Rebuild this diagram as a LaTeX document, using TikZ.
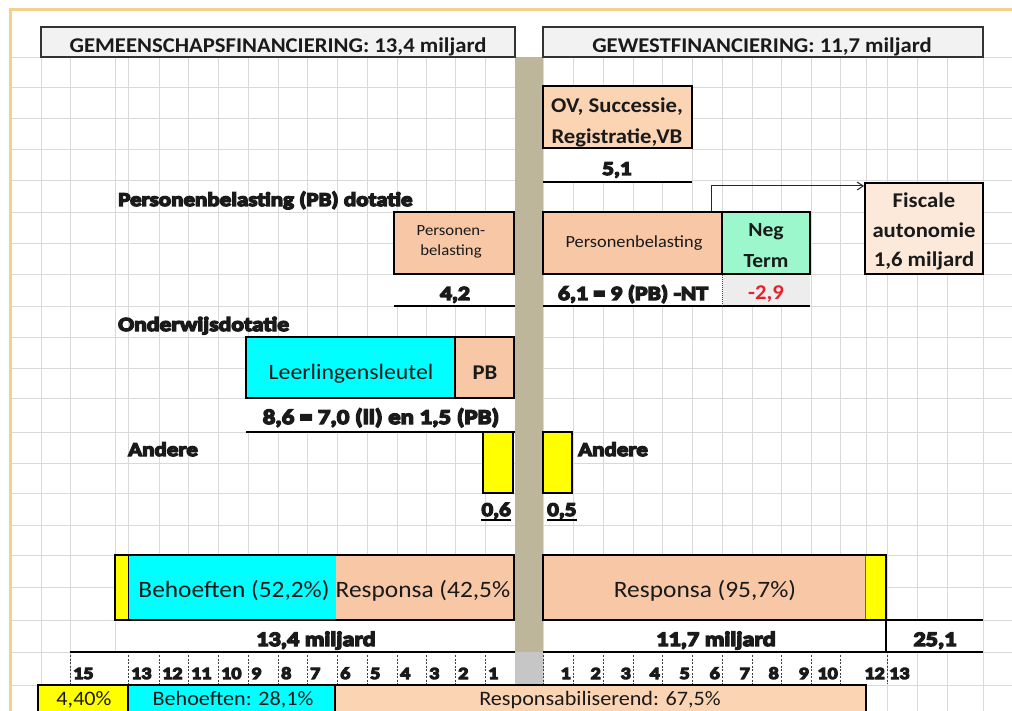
\documentclass[tikz,border=0pt]{standalone}
\usepackage{fontspec}
\setmainfont{Carlito}[FakeStretch=1.08]
\newfontfamily\heavyfont{Carlito}[UprightFont={* Bold},UprightFeatures={FakeBold=7},FakeStretch=1.18]
\usetikzlibrary{arrows.meta}
\definecolor{gridc}{HTML}{D9D9D9}
\definecolor{framec}{HTML}{F5D08A}
\definecolor{bandc}{HTML}{BDB69B}
\definecolor{axgray}{HTML}{C6C6C6}
\definecolor{hdrfill}{HTML}{F2F2F2}
\definecolor{peachA}{HTML}{F8C7A6}
\definecolor{peachB}{HTML}{FBD4B4}
\definecolor{peachC}{HTML}{FDE9D9}
\definecolor{mint}{HTML}{9CF7CC}
\definecolor{cyanc}{HTML}{00FFFF}
\definecolor{yel}{HTML}{FFFF00}
\definecolor{celgray}{HTML}{EDEDED}
\definecolor{txt}{HTML}{1A1A1A}
\definecolor{redc}{HTML}{E8202A}
\newcommand\mkbox[6]{\node[#2,minimum width={(#5-#3)*1pt},minimum height={(#6-#4)*1pt}] (#1) at ({(#3+#5)/2},{(#4+#6)/2}) {};}
\newcommand\fs[1]{\fontsize{#1}{#1}\selectfont}
\begin{document}
\begin{tikzpicture}[x=1pt,y=-1pt,
  gridline/.style={draw=gridc,line width=0.8pt},
  hdrbox/.style={draw=black!80,line width=1.2pt,fill=hdrfill,inner sep=0pt},
  bx/.style={draw=black,line width=2pt,inner sep=0pt},
  fillonly/.style={draw=none,inner sep=0pt},
  thick bx/.style={draw=black,line width=2.6pt,inner sep=0pt},
  tx/.style={inner sep=0pt,anchor=base,text=txt},
  hv/.style={tx,font=\heavyfont\fs{19.5}},
  axl/.style={tx,font=\heavyfont\fs{17}},
  tick/.style={draw=black!75,line width=0.7pt,dash pattern=on 2pt off 1.5pt},
  rule/.style={draw=black,line width=1.2pt},
  conn/.style={draw=black!85,line width=1pt,-{Straight Barb[length=6pt,width=8pt]}}]
\useasboundingbox (0,0) rectangle (1012,711);
\clip (0,0) rectangle (1012,711);
\fill[white] (0,0) rectangle (1012,711);
% grid
\foreach \x in {41,70,115,128,159,188,218,248,278,307,337,367,397,426,455,485,515,543,573,603,633,662,692,722,752,781,811,840,866,887,917,947,983}
  \draw[gridline] (\x,57) -- (\x,711);
\foreach \y in {57,87,118,149,180,212,243,274,306,337,368,398,432,463,493,525,555,587,620,652,685}
  \draw[gridline] (10,\y) -- (1012,\y);
% white cells
\fill[white] (543.5,148.5) rectangle (691.5,182);
\fill[white] (394.5,274.5) rectangle (514.5,306);
\fill[white] (543.5,274.5) rectangle (722,306);
\fill[celgray] (722,274.5) rectangle (810,306);
\fill[white] (246.5,398.5) rectangle (514.5,432);
\fill[white] (115.5,620.5) rectangle (514.5,652);
\fill[white] (543.5,620.5) rectangle (983,652);
\fill[white] (70.5,652) rectangle (514.5,684.5);
\fill[white] (543.5,652) rectangle (886.5,684.5);
% band
\fill[bandc] (515,57) rectangle (543,652);
\fill[axgray] (515,652) rectangle (543,685);
% frame
\draw[framec,line width=3pt] (10,711) -- (10,10) -- (1012,10);
% headers
\mkbox{hdl}{hdrbox}{41}{27}{515}{57}
\mkbox{hdr}{hdrbox}{543}{27}{983}{57}
\node[tx,font=\bfseries\fs{21}] (hdlt) at (278,53) {GEMEENSCHAPSFINANCIERING: 13,4 miljard};
\node[tx,font=\bfseries\fs{21}] (hdrt) at (762,53) {GEWESTFINANCIERING: 11,7 miljard};
% OV box
\mkbox{ov}{bx,fill=peachB}{543}{86}{692}{148}
\node[tx,font=\bfseries\fs{21}] (ov1) at (617,113) {OV, Successie,};
\node[tx,font=\bfseries\fs{21}] (ov2) at (617,144) {Registratie,VB};
\node[hv] (v51) at (617,175) {5,1};
\draw[rule] (543,182) -- (692,182);
% Fiscale autonomie
\mkbox{fisc}{bx,fill=peachC}{865}{183}{983}{274}
\node[tx,font=\bfseries\fs{21}] (f1) at (924,208) {Fiscale};
\node[tx,font=\bfseries\fs{21}] (f2) at (924,238) {autonomie};
\node[tx,font=\bfseries\fs{21}] (f3) at (924,267) {1,6 miljard};
% PB dotatie
\node[hv,anchor=base west] (t1) at (118,206) {Personenbelasting (PB) dotatie};
\mkbox{pbl}{bx,fill=peachA}{394}{212}{514}{274}
\node[tx,font=\fs{15.5}] (pl1) at (451,236) {Personen-};
\node[tx,font=\fs{15.5}] (pl2) at (451,256) {belasting};
\node[hv,font=\heavyfont\fs{20}] (v42) at (455,300) {4,2};
\draw[rule] (394,306) -- (515,306);
% right PB
\mkbox{prb}{bx,fill=peachA}{543}{212}{722}{274}
\mkbox{neg}{bx,fill=mint}{722}{212}{810}{274}
\node[tx,font=\fs{17}] (prt) at (634,248) {Personenbelasting};
\node[tx,font=\bfseries\fs{20}] (ng1) at (766,237) {Neg};
\node[tx,font=\bfseries\fs{20}] (ng2) at (766,268) {Term};
\node[hv,font=\heavyfont\fs{20}] (v61) at (633,300) {6,1 = 9 (PB) -NT};
\node[tx,font=\bfseries\fs{21},text=redc] (v29) at (766,300) {-2,9};
\draw[rule] (543,306) -- (810,306);
\draw[draw=black!70,line width=0.6pt,dash pattern=on 1pt off 1pt] (722,275) -- (722,306);
% arrow
\coordinate (abend) at (711,186);
\draw[conn] (prb.north -| abend) -- (abend) -- (abend -| fisc.west);
% Onderwijsdotatie
\node[hv,anchor=base west,font=\heavyfont\fs{20}] (t2) at (118,331) {Onderwijsdotatie};
\mkbox{ll}{bx,fill=cyanc}{246}{337}{455}{398}
\mkbox{pbb}{bx,fill=peachA}{455}{337}{514}{398}
\node[tx,font=\fs{22}] (llt) at (351,379) {Leerlingensleutel};
\node[tx,font=\bfseries\fs{21}] (pbt) at (485,379) {PB};
\node[hv,font=\heavyfont\fs{21}] (v86) at (381,424) {8,6 = 7,0 (ll) en 1,5 (PB)};
\draw[rule] (246,432) -- (515,432);
% Andere
\node[hv,anchor=base west] (a1) at (128,456) {Andere};
\node[hv,anchor=base west] (a2) at (578,456) {Andere};
\mkbox{y1}{bx,fill=yel}{483}{432}{513}{493}
\mkbox{y2}{bx,fill=yel}{543}{432}{572}{493}
\node[hv,anchor=base east] (v06) at (511,516) {0,6};
\node[hv,anchor=base west] (v05) at (547,516) {0,5};
\draw[line width=1.6pt] ([yshift=-4pt]v06.base west) -- ([yshift=-4pt]v06.base east);
\draw[line width=1.6pt] ([yshift=-4pt]v05.base west) -- ([yshift=-4pt]v05.base east);
% bars
\mkbox{lby}{fillonly,fill=yel}{115}{555}{128}{620}
\mkbox{lbc}{fillonly,fill=cyanc}{128}{555}{336}{620}
\mkbox{lbp}{fillonly,fill=peachA}{336}{555}{514}{620}
\draw[black,line width=0.8pt] (lby.north east) -- (lby.south east);
\mkbox{lbar}{thick bx}{115}{555}{514}{620}
\mkbox{rbp}{fillonly,fill=peachA}{543}{555}{866}{620}
\mkbox{rby}{fillonly,fill=yel}{866}{555}{886}{620}
\draw[black!60,line width=0.8pt] (rby.north west) -- (rby.south west);
\mkbox{rbar}{thick bx}{543}{555}{886}{620}
\node[tx,font=\fs{23.5}] (bh) at (234,597) {Behoeften (52,2\%)};
\node[tx,font=\fs{23.5}] (rs1) at (423,597) {Responsa (42,5\%};
\node[tx,font=\fs{23.5}] (rs2) at (705,597) {Responsa (95,7\%)};
% totals
\draw[black,line width=2pt] (886,620) -- (983,620);
\draw[black,line width=2pt] (886,652) -- (983,652);
\draw[black,line width=1.2pt] (886,620) -- (886,652);
\draw[black,line width=1.5pt] (70,652) -- (515,652);
\draw[black,line width=1.3pt] (543,652) -- (886,652);
\node[hv,font=\heavyfont\fs{20.5}] (m134) at (316,646) {13,4 miljard};
\node[hv,font=\heavyfont\fs{20.5}] (m117) at (716,646) {11,7 miljard};
\node[hv,font=\heavyfont\fs{20.5}] (m251) at (935,646) {25,1};
% axis
\foreach \x/\l [count=\i] in {70/15,128/13,159/12,188/11,218/10,248/9,278/8,307/7,337/6,367/5,397/4,426/3,455/2,485/1}{
  \draw[tick] (\x,655) -- (\x,684);
  \node[axl,anchor=base west] (axl\i) at (\x+3,679) {\l};
}
\draw[tick] (543,655) -- (543,684);
\foreach \x/\l [count=\i] in {573/1,603/2,633/3,662/4,692/5,722/6,752/7,781/8,811/9,840/10,887/12}{
  \draw[tick] (\x,655) -- (\x,684);
  \node[axl,anchor=base east] (axr\i) at (\x-2,679) {\l};
}
\node[axl,anchor=base west] (ax13) at (889,679) {13};
% bottom row
\mkbox{b1}{thick bx,fill=yel}{38}{685}{128}{730}
\mkbox{b2}{thick bx,fill=cyanc}{128}{685}{335}{730}
\mkbox{b3}{thick bx,fill=peachB}{335}{685}{866}{730}
\node[tx,font=\fs{20.5}] (b1t) at (84,705) {4,40\%};
\node[tx,font=\fs{20.5}] (b2t) at (233,705) {Behoeften: 28,1\%};
\node[tx,font=\fs{20.5}] (b3t) at (600,705) {Responsabiliserend: 67,5\%};
\end{tikzpicture}
\end{document}
